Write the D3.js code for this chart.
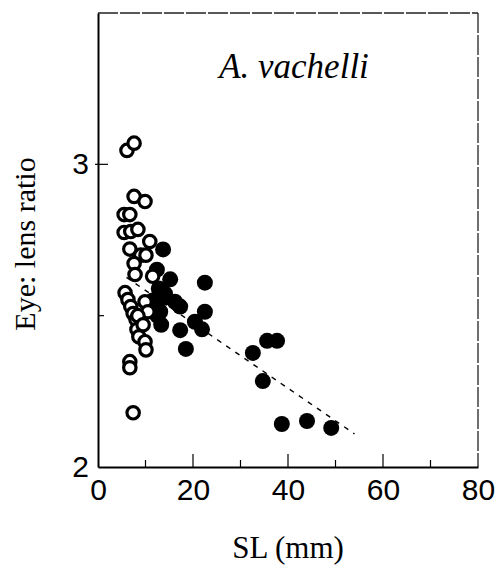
<!DOCTYPE html>
<html><head><meta charset="utf-8">
<script src="https://cdn.jsdelivr.net/npm/d3@7"></script>
<style>body{margin:0;background:#fff}</style>
</head><body><svg id="c" width="498" height="571"></svg>
<script>
const openSL = [6.1,7.6,7.6,9.9,5.5,6.7,5.5,6.9,8.4,10.9,6.7,9.0,7.6,10.1,7.8,5.7,6.3,6.9,9.9,10.5,7.4,8.0,8.2,8.6,9.9,10.1,6.7,6.7,7.4,8.4,9.5,11.5];
const openRatio = [3.046,3.07,2.894,2.877,2.834,2.834,2.775,2.778,2.785,2.745,2.72,2.70,2.672,2.70,2.636,2.576,2.553,2.53,2.546,2.513,2.507,2.487,2.454,2.43,2.414,2.387,2.348,2.328,2.179,2.50,2.47,2.63];
const filledSL = [13.7,12.4,15.2,22.5,12.8,13.1,14.1,16.2,17.3,14.1,22.5,13.1,20.4,21.9,17.3,13.3,18.5,12.5,11.5,32.6,35.6,37.7,34.7,38.7,44.0,49.1];
const filledRatio = [2.719,2.652,2.62,2.609,2.59,2.569,2.573,2.546,2.53,2.56,2.513,2.513,2.48,2.455,2.452,2.47,2.39,2.50,2.55,2.377,2.417,2.417,2.284,2.142,2.152,2.129];
const fitSL = [6, 54];
const fitIntercept = 2.691, fitSlope = -0.01077;
const xTicks = [0,20,40,60,80];
const xMinor = [10,30,50,70];
const yTicks = [2,3];
const yMinor = [2.5];
const title = "A. vachelli";
const xLabel = "SL (mm)";
const yLabel = "Eye: lens ratio";

const svg = d3.select("#c");
const L = 98, R = 478, T = 13, B = 467;
const x = d3.scaleLinear().domain([0,80]).range([L,R]);
const y = d3.scaleLinear().domain([2,3.5]).range([B,T]);

// frame top/right (light)
svg.append("line").attr("x1",L).attr("x2",R).attr("y1",T).attr("y2",T).attr("stroke","#222").attr("stroke-width",1.3).attr("stroke-dasharray","20,2");
svg.append("line").attr("x1",R).attr("x2",R).attr("y1",T).attr("y2",B).attr("stroke","#222").attr("stroke-width",1.3).attr("stroke-dasharray","20,2");

// axes
const xAxis = d3.axisBottom(x).tickValues(xTicks).tickSize(0).tickPadding(12).tickFormat(d3.format("d"));
const gx = svg.append("g").attr("transform",`translate(0,${B})`).call(xAxis);
gx.select(".domain").attr("stroke","#000").attr("stroke-width",2);
gx.selectAll("text").attr("font-family","Liberation Sans, Arial, sans-serif").attr("font-size",30).attr("fill","#000");
gx.selectAll(".tickIn").data(xTicks.slice(1,4)).enter().append("line")
  .attr("x1",d=>x(d)).attr("x2",d=>x(d)).attr("y1",0).attr("y2",-13).attr("stroke","#000").attr("stroke-width",1.2);
gx.selectAll(".tickMin").data(xMinor).enter().append("line")
  .attr("x1",d=>x(d)).attr("x2",d=>x(d)).attr("y1",0).attr("y2",-7).attr("stroke","#000").attr("stroke-width",1.2);

const yAxis = d3.axisLeft(y).tickValues(yTicks).tickSize(0).tickPadding(9).tickFormat(d3.format("d"));
const gy = svg.append("g").attr("transform",`translate(${L},0)`).call(yAxis);
gy.select(".domain").attr("stroke","#000").attr("stroke-width",2);
gy.selectAll("text").attr("font-family","Liberation Sans, Arial, sans-serif").attr("font-size",30).attr("fill","#000");
gy.selectAll(".tY").data([3]).enter().append("line")
  .attr("x1",-3).attr("x2",10).attr("y1",d=>y(d)).attr("y2",d=>y(d)).attr("stroke","#000").attr("stroke-width",1.2);
gy.selectAll(".tYm").data(yMinor).enter().append("line")
  .attr("x1",0).attr("x2",6).attr("y1",d=>y(d)).attr("y2",d=>y(d)).attr("stroke","#000").attr("stroke-width",1.2);

// fit line
svg.append("line")
  .attr("x1",x(fitSL[0])).attr("y1",y(fitIntercept+fitSlope*fitSL[0]))
  .attr("x2",x(fitSL[1])).attr("y2",y(fitIntercept+fitSlope*fitSL[1]))
  .attr("stroke","#000").attr("stroke-width",1.4).attr("stroke-dasharray","5,6");

// points
const openData = openSL.map((d,i)=>({sl:d, r:openRatio[i]}));
const filledData = filledSL.map((d,i)=>({sl:d, r:filledRatio[i]}));
svg.append("g").selectAll("circle").data(filledData).enter().append("circle")
  .attr("cx",d=>x(d.sl)).attr("cy",d=>y(d.r)).attr("r",8).attr("fill","#000");
svg.append("g").selectAll("circle").data(openData).enter().append("circle")
  .attr("cx",d=>x(d.sl)).attr("cy",d=>y(d.r)).attr("r",6.2).attr("fill","#fff").attr("stroke","#000").attr("stroke-width",3.2);

// labels
svg.append("text").attr("x",294).attr("y",78).attr("text-anchor","middle")
  .attr("font-family","Liberation Serif, Times New Roman, serif").attr("font-style","italic").attr("font-size",35).text(title);
svg.append("text").attr("x",288).attr("y",558).attr("text-anchor","middle")
  .attr("font-family","Liberation Serif, Times New Roman, serif").attr("font-size",31).text(xLabel);
svg.append("text").attr("transform","translate(35,244) rotate(-90)").attr("text-anchor","middle")
  .attr("font-family","Liberation Serif, Times New Roman, serif").attr("font-size",30).text(yLabel);
</script></body></html>
